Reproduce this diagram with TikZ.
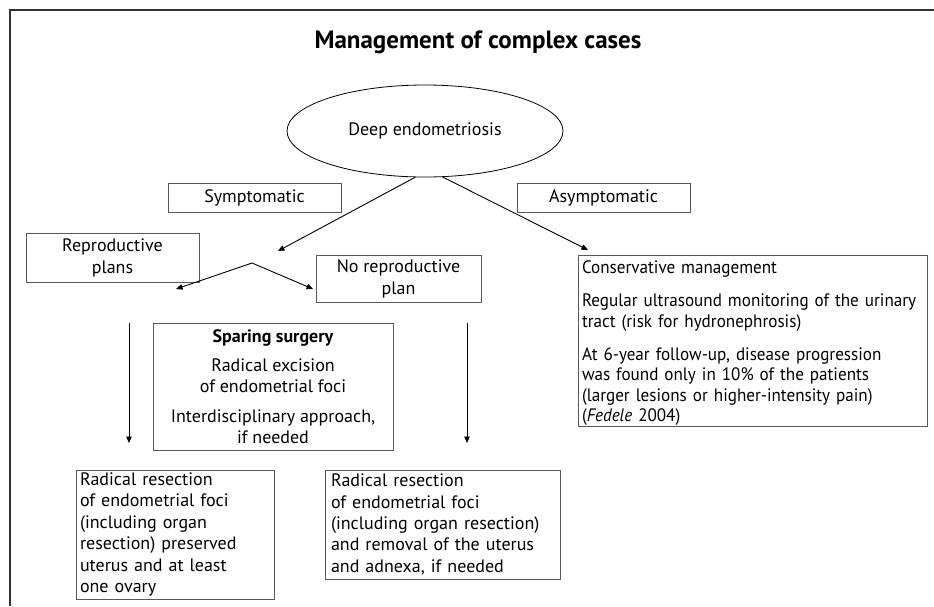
\documentclass[tikz,border=0pt]{standalone}
\usepackage{fontspec}
\setmainfont{PT Sans}
\usetikzlibrary{arrows.meta,shapes.geometric}

\tikzset{
  box/.style={draw=black!65, line width=0.9pt, inner sep=0pt, align=center,
              font=\fontsize{18}{22}\selectfont},
  textbox/.style={draw=black!65, line width=0.9pt, inner xsep=5pt, inner ysep=0pt,
              align=left, font=\fontsize{18}{21.4}\selectfont,
              execute at begin node={\hyphenpenalty=10000\exhyphenpenalty=10000}},
  link/.style={line width=0.9pt, -{Triangle[length=6.5pt,width=5.5pt]}},
  frame/.style={line width=2pt, draw=black!80}
}

\begin{document}
\begin{tikzpicture}[x=1pt,y=-1pt]
\useasboundingbox (0,0) rectangle (934,606);

% outer frame (top and left sides only)
\draw[frame] (10,606) -- (10,10) -- (934,10);

% title
\node[font=\fontsize{25}{29}\selectfont\bfseries] (title) at (478,42) {Management of complex cases};

% root
\node[ellipse, draw=black, line width=0.8pt, minimum width=276pt, minimum height=92pt,
      inner sep=0pt, font=\fontsize{18}{22}\selectfont] (deep) at (425,131) {Deep endometriosis};

% first level labels
\node[box, minimum width=173pt, minimum height=29pt] (sym)  at (254.5,197.5) {Symptomatic};
\node[box, minimum width=173pt, minimum height=29pt] (asym) at (603.5,197.5) {Asymptomatic};

% second level labels
\node[box, minimum width=173pt, minimum height=49pt] (repro)   at (112.5,257.5) {Reproductive\\plans};
\node[box, minimum width=165pt, minimum height=47pt] (norepro) at (398.5,278.5) {No reproductive\\plan};

% conservative branch (slightly condensed so the long line fits)
\node[textbox, inner xsep=4pt, text width=341pt, minimum height=171pt,
      font={\fontsize{18}{20.5}\selectfont\addfontfeatures{FakeStretch=0.95}}] (cons) at (752.5,340.5)
  {\rule{0pt}{18pt}Conservative management\\[12.5pt]
   Regular ultrasound monitoring of the urinary\\
   tract (risk for hydronephrosis)\\[12.5pt]
   At 6-year follow-up, disease progression\\
   was found only in 10\% of the patients\\
   (larger lesions or higher-intensity pain)\\
   (\textit{Fedele} 2004)};

% sparing surgery
\node[box, minimum width=240pt, minimum height=127pt, font=\fontsize{18}{21}\selectfont] (spare) at (273,386.5)
  {\textbf{Sparing surgery}\\[8.5pt]
   Radical excision\\ of endometrial foci\\[8.5pt]
   Interdisciplinary approach,\\ if needed};

% outcomes
\node[textbox, inner xsep=4pt, text width=190pt, minimum height=129pt] (keep) at (175,534.5)
  {Radical resection\\ of endometrial foci\\ (including organ\\ resection) preserved\\ uterus and at least\\ one ovary};
\node[textbox, inner xsep=6pt, text width=223pt, minimum height=109pt] (remove) at (442.5,524.5)
  {Radical resection\\ of endometrial foci\\ (including organ resection)\\ and removal of the uterus\\ and adnexa, if needed};

% connector points
\coordinate (tipS) at (278,251);
\coordinate (tipA) at (588,250);
\coordinate (fork) at (252,263);
\coordinate (tipL) at (176,289);
\coordinate (tipR) at (313,289);
\coordinate (downLtop) at (129,323);
\coordinate (downLend) at (129,443);
\coordinate (downRtop) at (467,323);
\coordinate (downRend) at (467,443);

% connectors
\draw[link] (deep.-102) -- (tipS);
\draw[link] (deep.-69) -- (tipA);
\draw[link] (fork) -- (tipL);
\draw[link] (fork) -- (tipR);
\draw[link] (downLtop) -- (downLend);
\draw[link] (downRtop) -- (downRend);
\end{tikzpicture}
\end{document}
